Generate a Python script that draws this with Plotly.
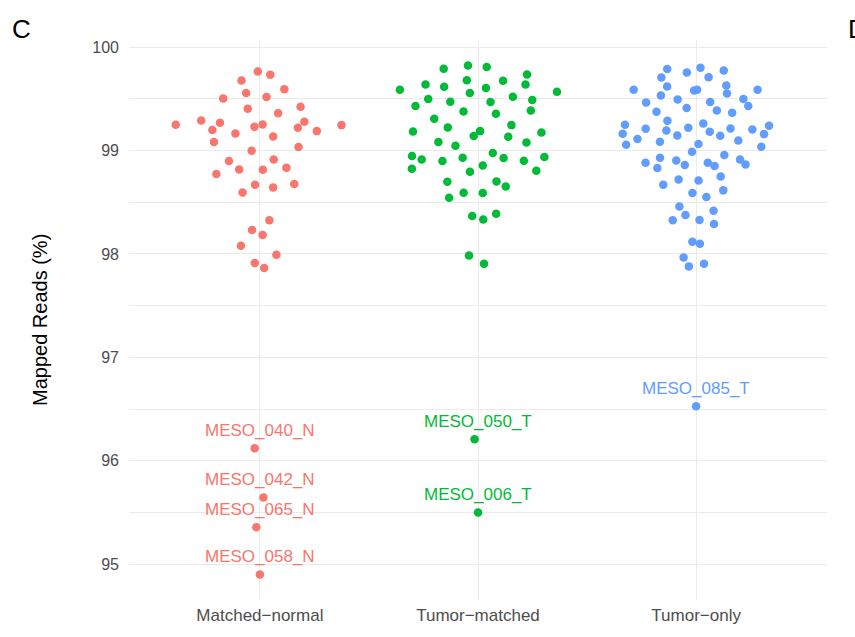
import numpy as np
import plotly.graph_objects as go

categories = ["Matched\u2212normal", "Tumor\u2212matched", "Tumor\u2212only"]
colors = ["#F8766D", "#00BA38", "#619CFF"]

matched_normal = [99.765, 99.733, 99.678, 99.594, 99.556, 99.504, 99.517, 99.424, 99.404, 99.362,
                  99.250, 99.291, 99.269, 99.198, 99.230, 99.253, 99.279, 99.221, 99.188, 99.246,
                  99.166, 99.137, 99.082, 99.034, 98.998, 98.898, 98.914, 98.818, 98.815, 98.834,
                  98.773, 98.670, 98.644, 98.676, 98.595, 98.325, 98.231, 98.183, 98.080, 97.993,
                  97.912, 97.864, 96.121, 95.644, 95.357, 94.900]
tumor_matched = [99.791, 99.823, 99.807, 99.736, 99.588, 99.639, 99.617, 99.681, 99.675, 99.639,
                 99.604, 99.569, 99.556, 99.498, 99.430, 99.472, 99.469, 99.520, 99.488, 99.378,
                 99.356, 99.388, 99.308, 99.224, 99.246, 99.185, 99.140, 99.188, 99.134, 99.175,
                 99.082, 99.047, 99.079, 98.947, 98.914, 98.898, 98.931, 98.976, 98.927, 98.902,
                 98.937, 98.824, 98.795, 98.856, 98.805, 98.699, 98.702, 98.653, 98.544, 98.592,
                 98.589, 98.367, 98.334, 98.389, 97.986, 97.906, 96.208, 95.499]
tumor_only = [99.788, 99.801, 99.775, 99.755, 99.707, 99.710, 99.588, 99.620, 99.581, 99.588,
              99.630, 99.552, 99.588, 99.533, 99.465, 99.494, 99.469, 99.498, 99.430, 99.411,
              99.388, 99.366, 99.375, 99.250, 99.288, 99.262, 99.240, 99.163, 99.211, 99.195,
              99.221, 99.182, 99.214, 99.204, 99.159, 99.111, 99.146, 99.143, 99.085, 99.098,
              99.056, 99.063, 99.037, 98.989, 98.956, 98.882, 98.931, 98.905, 98.860, 98.882,
              98.850, 98.914, 98.866, 98.831, 98.750, 98.670, 98.721, 98.711, 98.589, 98.550,
              98.615, 98.460, 98.418, 98.376, 98.325, 98.328, 98.289, 98.119, 98.099, 97.967,
              97.906, 97.880, 96.527]

label_groups = [0, 0, 0, 0, 1, 1, 2]
label_names = ["MESO_040_N", "MESO_042_N", "MESO_065_N", "MESO_058_N", "MESO_050_T", "MESO_006_T", "MESO_085_T"]
label_values = [96.121, 95.644, 95.357, 94.900, 96.208, 95.499, 96.527]

y_tick_values = [95, 96, 97, 98, 99, 100]
y_tick_labels = ["95", "96", "97", "98", "99", "100"]
y_minor_values = [95.5, 96.5, 97.5, 98.5, 99.5]


def van_der_corput(n, base=2):
    out = []
    for i in range(1, n + 1):
        v, denom, k = 0.0, 1.0, i
        while k > 0:
            k, r = divmod(k, base)
            denom *= base
            v += r / denom
        out.append(v)
    return np.array(out)


def bw_nrd0(x):
    x = np.asarray(x)
    hi = np.std(x, ddof=1)
    q75, q25 = np.percentile(x, [75, 25])
    lo = min(hi, (q75 - q25) / 1.34)
    if lo <= 0:
        lo = hi if hi > 0 else 1.0
    return 0.9 * lo * len(x) ** (-0.2)


def quasirandom_offsets(y, width=0.4, adjust=0.5, n_grid=1024):
    """Quasirandom (van der Corput) offsets scaled by kernel density, as in ggbeeswarm."""
    y = np.asarray(y, dtype=float)
    n = len(y)
    if n == 1:
        return np.zeros(1)
    bw = bw_nrd0(y) * adjust
    grid = np.linspace(y.min() - 3 * bw, y.max() + 3 * bw, n_grid)
    dens = np.exp(-0.5 * ((grid[:, None] - y[None, :]) / bw) ** 2).sum(axis=1)
    dens = dens / dens.max()
    point_dens = np.interp(y, grid, dens)
    order = np.argsort(y, kind="stable")
    ranks = np.empty(n, dtype=int)
    ranks[order] = np.arange(1, n + 1)
    vdc = van_der_corput(n)[ranks - 1]
    return (vdc - 0.5) * 2 * point_dens * width


groups = [matched_normal, tumor_matched, tumor_only]
all_vals = np.concatenate([np.asarray(g) for g in groups])
span = all_vals.max() - all_vals.min()
y_range = [all_vals.min() - 0.05 * span, all_vals.max() + 0.05 * span]

fig = go.Figure()
for i, (vals, col) in enumerate(zip(groups, colors)):
    offs = quasirandom_offsets(vals)
    fig.add_trace(go.Scatter(
        x=(i + 1) + offs, y=vals, mode="markers",
        marker=dict(color=col, size=8.5, line=dict(width=0)),
        name=categories[i], showlegend=False, hoverinfo="y"))

font_family = "Liberation Sans, Arial, sans-serif"
annotations = []
for g, name, v in zip(label_groups, label_names, label_values):
    annotations.append(dict(x=g + 1, y=v, xref="x", yref="y", text=name, showarrow=False,
                            xanchor="center", yanchor="middle",
                            yshift=18, font=dict(size=17, color=colors[g], family=font_family)))
annotations.append(dict(x=-0.1275, y=0.5, xref="paper", yref="paper", text="Mapped Reads (%)",
                        textangle=-90, showarrow=False, xanchor="center", yanchor="middle",
                        font=dict(size=20, color="black", family=font_family)))
annotations.append(dict(x=-0.1537, y=1.0189, xref="paper", yref="paper", text="C", showarrow=False,
                        xanchor="center", yanchor="middle", font=dict(size=26, color="black", family=font_family)))
annotations.append(dict(x=1.0272, y=1.0189, xref="paper", yref="paper", text="D", showarrow=False,
                        xanchor="left", yanchor="middle", font=dict(size=26, color="black", family=font_family)))

fig.update_layout(
    width=855, height=637,
    margin=dict(l=129, r=28, t=39.6, b=37.2),
    paper_bgcolor="white", plot_bgcolor="white",
    font=dict(family=font_family),
    annotations=annotations,
    xaxis=dict(range=[0.4, 3.6], tickvals=[1, 2, 3], ticktext=categories, showgrid=True,
               gridcolor="#EBEBEB", gridwidth=1.1, zeroline=False, showline=False, ticks="",
               tickfont=dict(size=17, color="#4D4D4D"), ticklabelstandoff=3),
    yaxis=dict(range=y_range, tickvals=y_tick_values, ticktext=y_tick_labels,
               showgrid=True, gridcolor="#EBEBEB", gridwidth=1.1, zeroline=False, showline=False, ticks="",
               tickfont=dict(size=16, color="#4D4D4D"), ticklabelstandoff=9,
               minor=dict(tickvals=y_minor_values, showgrid=True, gridcolor="#EBEBEB", gridwidth=0.6)),
)

fig.write_html("out.html")
